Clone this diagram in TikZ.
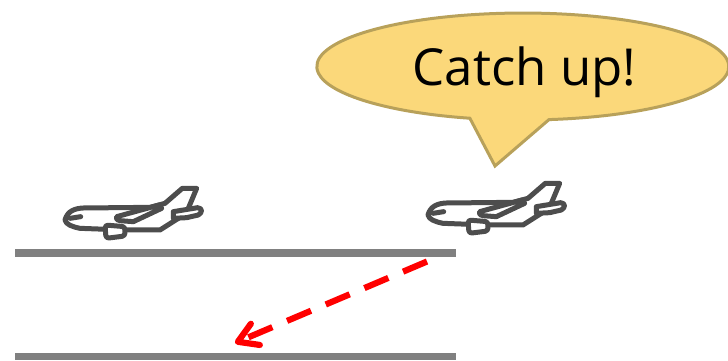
\documentclass[tikz,border=0pt]{standalone}
\usepackage{fontspec}
\setmainfont{Open Sans}
\usetikzlibrary{arrows.meta}
\definecolor{bubblefill}{HTML}{FBD87A}
\definecolor{bubbleline}{HTML}{B8A15A}
\definecolor{planeline}{HTML}{4D4D4D}
\definecolor{roadgrey}{HTML}{808080}
\tikzset{
  x=1pt,y=1pt,
  bubble/.style={draw=bubbleline,fill=bubblefill,line width=3pt,line join=miter},
  road/.style={draw=roadgrey,line width=7.5pt},
  planestroke/.style={draw=planeline,line width=5pt,line join=round,line cap=round,fill=white},
  move/.style={draw=red,line width=6.2pt,dash pattern=on 26pt off 16pt,
    -{Straight Barb[length=19pt,width=23pt,line width=6.2pt,round]}},
  plane/.pic={
    \begin{scope}[x=0.3333pt,y=-0.3333pt]
      \path[planestroke]
        (45,135) .. controls (52,108) and (75,100) .. (100,99)
        -- (300,97) -- (345,85) -- (397,40) -- (440,40) -- (415,100)
        -- (385,130) -- (330,165) -- (225,165) -- (90,160)
        .. controls (65,155) and (48,148) .. (45,135) -- cycle;
      \path[planestroke] (60,130) -- (92,125);
      \path[planestroke]
        (370,110) -- (443,98) .. controls (458,100) and (458,112) .. (445,120)
        -- (410,128) -- (370,130) -- cycle;
      \path[planestroke]
        (200,125) -- (328,90) -- (335,100) -- (250,140) -- (210,137)
        .. controls (198,135) and (198,128) .. (200,125) -- cycle;
      \path[planestroke,rounded corners=3pt]
        (165,150) -- (225,155) -- (225,183) -- (168,190) -- cycle;
    \end{scope}
  }
}
\begin{document}
\begin{tikzpicture}
\useasboundingbox (0,0) rectangle (728,360);
\path[bubble] (495,194) -- (549,240.4)
  arc[start angle=-82.7,end angle=255.1,x radius=206,y radius=53.5] -- cycle;
\node[font=\fontsize{51}{51}\selectfont,text=black,inner sep=0pt] (label) at (524.5,288) {Catch up!};
\pic (planeA) at (50,185) {plane};
\pic (planeB) at (413,190) {plane};
\coordinate (roadAw) at (15,107.2);
\coordinate (roadAe) at (456,107.2);
\coordinate (roadBw) at (15,3.5);
\coordinate (roadBe) at (456,3.5);
\draw[road] (roadAw) -- (roadAe);
\draw[road] (roadBw) -- (roadBe);
\coordinate (moveS) at (427,98.5);
\coordinate (moveE) at (235,17);
\draw[move] (moveS) -- (moveE);
\end{tikzpicture}
\end{document}
